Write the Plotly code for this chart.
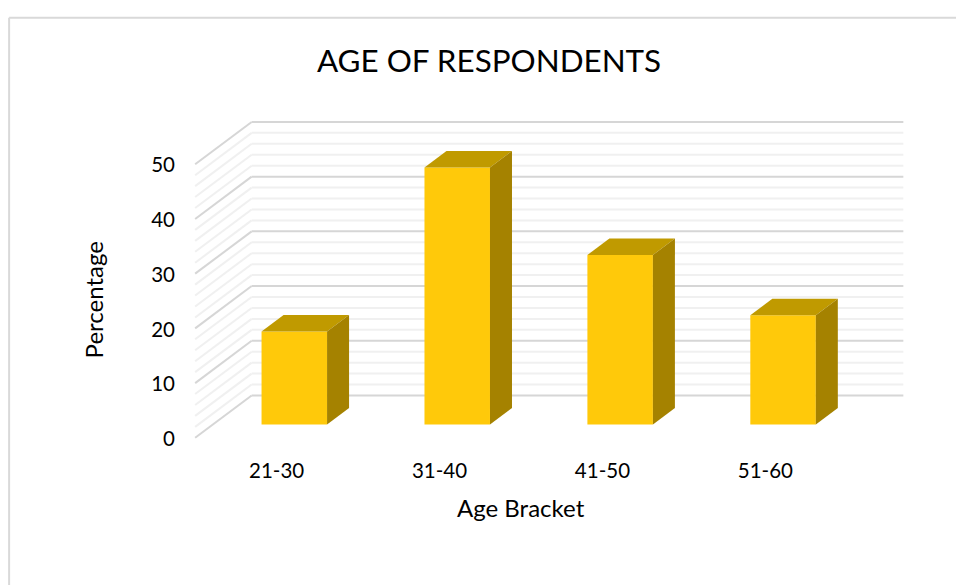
import plotly.graph_objects as go

categories = ["21-30", "31-40", "41-50", "51-60"]
percentages = [17, 47, 31, 20]
y_ticks = [0, 10, 20, 30, 40, 50]
minor_ticks = [2, 4, 6, 8, 12, 14, 16, 18, 22, 24, 26, 28, 32, 34, 36, 38, 42, 44, 46, 48]

FONT = "Lato"
W, H = 956, 585
PX_X, PX_Y = 162.9, 5.47        # pixels per category / per percentage point
ORIGIN_X, ORIGIN_Y = 195.0, 437.5  # front floor corner
X_RANGE = [-0.55, 3.9]
Y_RANGE = [-1.5, 59.0]

WALL_DX, WALL_DY = 56.5 / PX_X, 42.3 / PX_Y     # depth of the box
BAR_W = 65.5 / PX_X
BAR_DX, BAR_DY = 22.0 / PX_X, 16.5 / PX_Y       # depth of one bar
BAR_SHIFT_X, BAR_BASE = 17.7 / PX_X, 13.2 / PX_Y  # bar front face offset

FRONT, TOP, SIDE = "#FFC90A", "#C09A00", "#A58200"
MAJOR, MINOR = "#D6D6D6", "#F0F0F0"

shapes = []


def grid(v, color, width):
    common = dict(type="line", xref="x", yref="y", layer="below",
                  line=dict(color=color, width=width))
    # side wall, then back wall
    shapes.append(dict(x0=-0.5, y0=v, x1=-0.5 + WALL_DX, y1=v + WALL_DY, **common))
    shapes.append(dict(x0=-0.5 + WALL_DX, y0=v + WALL_DY,
                       x1=3.5 + WALL_DX, y1=v + WALL_DY, **common))


for v in minor_ticks:
    grid(v, MINOR, 2)
for v in y_ticks:
    grid(v, MAJOR, 2)

# chart frame
frame = dict(type="line", xref="paper", yref="paper", layer="below",
             line=dict(color="#D9D9D9", width=2))

fig = go.Figure()

xs = [i + BAR_SHIFT_X for i in range(len(categories))]
fig.add_trace(go.Bar(x=xs, y=percentages, base=BAR_BASE, width=BAR_W,
                     marker=dict(color=FRONT, line=dict(width=0)),
                     hoverinfo="skip", showlegend=False))

for x, v in zip(xs, percentages):
    l, r = x - BAR_W / 2, x + BAR_W / 2
    b, t = BAR_BASE, BAR_BASE + v
    fig.add_trace(go.Scatter(
        x=[l, r, r + BAR_DX, l + BAR_DX, l], y=[t, t, t + BAR_DY, t + BAR_DY, t],
        mode="lines", fill="toself", fillcolor=TOP, line=dict(width=0),
        hoverinfo="skip", showlegend=False))
    fig.add_trace(go.Scatter(
        x=[r, r + BAR_DX, r + BAR_DX, r, r], y=[b, b + BAR_DY, t + BAR_DY, t, b],
        mode="lines", fill="toself", fillcolor=SIDE, line=dict(width=0),
        hoverinfo="skip", showlegend=False))

left = ORIGIN_X + (X_RANGE[0] + 0.5) * PX_X
right = ORIGIN_X + (X_RANGE[1] + 0.5) * PX_X
bottom = ORIGIN_Y - Y_RANGE[0] * PX_Y
top = ORIGIN_Y - Y_RANGE[1] * PX_Y


def px(x, y):
    # page pixels -> paper fractions of the plot area
    return (x - left) / (right - left), (bottom - y) / (bottom - top)


fx0, fy0 = px(9, 590)
fx1, fy1 = px(960, 17.5)

fig.update_layout(
    width=W, height=H, autosize=False,
    paper_bgcolor="white", plot_bgcolor="rgba(0,0,0,0)",
    margin=dict(l=left, r=W - right, t=top, b=H - bottom, pad=0),
    showlegend=False,
    font=dict(family=FONT, color="#000000"),
    title=dict(text="AGE OF RESPONDENTS", font=dict(family=FONT, size=31.4, color="#000000"),
               xref="container", yref="container", x=489 / W, xanchor="center",
               y=1 - 61 / H, yanchor="middle", automargin=False),
    xaxis=dict(range=X_RANGE, tickmode="array", tickvals=list(range(len(categories))),
               ticktext=categories, showgrid=False, zeroline=False, showline=False,
               ticks="", tickfont=dict(size=20.5), ticklabelstandoff=10, automargin=False),
    yaxis=dict(range=Y_RANGE, tickmode="array", tickvals=y_ticks, showgrid=False,
               zeroline=False, showline=False, ticks="", tickfont=dict(size=20.5),
               ticklabelstandoff=11, ticklabelshift=1, automargin=False),
    shapes=shapes + [
        dict(x0=fx0, y0=fy0, x1=fx0, y1=fy1, **frame),
        dict(x0=fx0, y0=fy1, x1=fx1, y1=fy1, **frame),
    ],
    annotations=[
        dict(text="Age Bracket", xref="paper", yref="paper", x=px(521, 0)[0], y=px(0, 507)[1],
             xanchor="center", yanchor="middle", showarrow=False, font=dict(size=24)),
        dict(text="Percentage", xref="paper", yref="paper", x=px(93, 0)[0], y=px(0, 300)[1],
             xanchor="center", yanchor="middle", textangle=-90, showarrow=False,
             font=dict(size=24)),
    ],
)

fig.write_html("out.html", config={"displayModeBar": False},
               post_script="document.body.style.margin='0';")
